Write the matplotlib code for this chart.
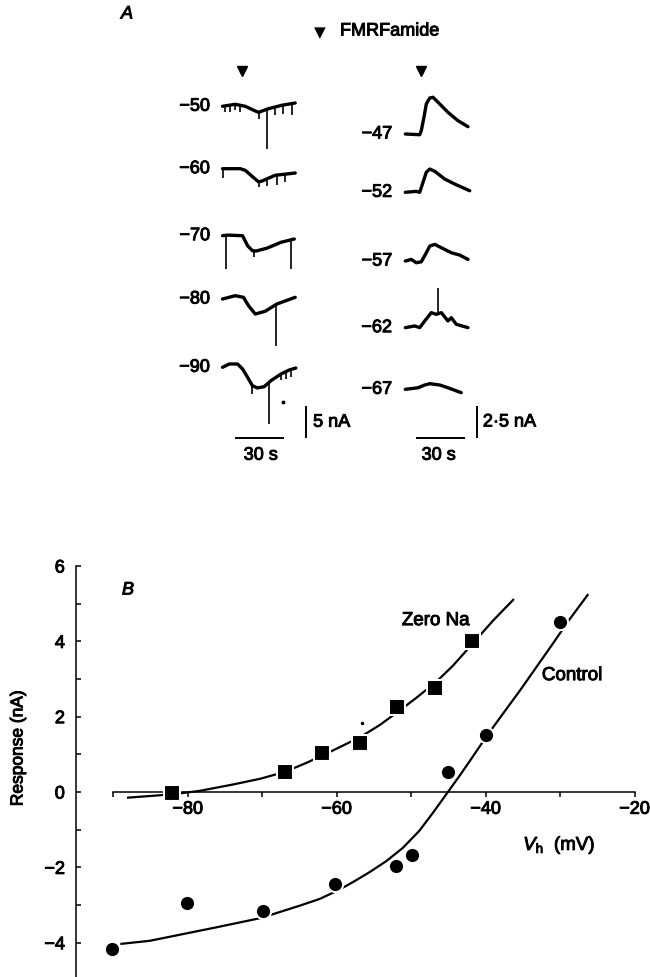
import matplotlib
matplotlib.use('Agg')
import matplotlib.pyplot as plt
import matplotlib.patheffects as pe
import numpy as np

plt.rcParams['font.family'] = ['Liberation Sans', 'DejaVu Sans']
plt.rcParams['mathtext.fontset'] = 'custom'
plt.rcParams['mathtext.rm'] = 'Liberation Sans'
plt.rcParams['mathtext.it'] = 'Liberation Sans:italic'

# ---------------- Panel B data ----------------
zero_na_vh = [-82.1, -67.0, -62.0, -56.9, -51.9, -46.8, -41.8]
zero_na_resp = [-0.03, 0.52, 1.03, 1.29, 2.25, 2.75, 4.02]
control_vh = [-90.2, -80.1, -69.9, -60.2, -52.0, -49.9, -45.0, -40.0, -30.0]
control_resp = [-4.17, -2.95, -3.15, -2.44, -1.96, -1.67, 0.52, 1.51, 4.52]

zero_na_fit_vh = [-88.0, -82.0, -78.4, -73.9, -70.3, -67.0, -64.1, -62.0, -59.6,
                  -56.8, -54.2, -51.7, -49.3, -46.6, -44.4, -41.6, -39.0, -36.3]
zero_na_fit_resp = [-0.15, -0.06, 0.03, 0.20, 0.35, 0.53, 0.77, 0.96, 1.19,
                    1.46, 1.78, 2.14, 2.50, 2.93, 3.35, 3.97, 4.55, 5.10]
control_fit_vh = [-88.9, -85.1, -80.6, -76.1, -70.3, -68.5, -65.0, -62.3, -59.8,
                  -57.8, -55.6, -53.3, -51.1, -48.9, -47.1, -45.1, -43.5, -42.2,
                  -39.8, -37.7, -35.4, -33.2, -31.0, -28.7, -26.3]
control_fit_resp = [-4.03, -3.95, -3.77, -3.59, -3.35, -3.24, -3.02, -2.84, -2.61,
                    -2.39, -2.13, -1.83, -1.48, -1.03, -0.56, -0.01, 0.43, 0.80,
                    1.50, 2.07, 2.69, 3.31, 3.93, 4.59, 5.23]

# ---------------- Panel A data (time in s, current in nA) ----------------
left_labels = ['\u221250', '\u221260', '\u221270', '\u221280', '\u221290']
right_labels = ['\u221247', '\u221252', '\u221257', '\u221262', '\u221267']

m50_t = [0, 8.1, 14.5, 20.9, 23.0, 29.4, 37.9, 46.4]
m50_i = [0, 0.33, 0, -0.78, -1.0, -0.4, 0.17, 0.55]
m50_spk_t = [1.7, 4.9, 8.1, 11.3, 23.0, 28.3, 33.6, 38.9, 44.3]
m50_spk_i = [-0.95, -0.95, -0.7, -0.95, -2.07, -7.07, -1.5, -1.23, -1.5]

m60_t = [0, 11.3, 14.5, 23.0, 25.3, 33.6, 46.4]
m60_i = [0, 0, -0.27, -2.2, -2.05, -1.1, -0.72]
m60_spk_t = [0.2, 23.0, 28.3, 34.7, 40.0]
m60_spk_i = [-1.5, -3.0, -2.9, -2.7, -2.2]

m70_t = [0, 3.2, 12.8, 16.0, 19.1, 21.5, 28.7, 37.3, 45.8]
m70_i = [0, 0.1, 0, -1.67, -2.5, -2.55, -2.05, -1.1, -0.55]
m70_spk_t = [2.55, 19.8, 43.6]
m70_spk_i = [-5.55, -3.6, -5.55]

m80_t = [0, 8.1, 13.4, 16.6, 20.9, 27.2, 34.7, 46.4]
m80_i = [0, 0.55, 0.28, -1.12, -2.5, -2.05, -0.83, 0.28]
m80_spk_t = [34.3, 40.5, 44.0]
m80_spk_i = [-7.78, -0.4, -0.2]

m90_t = [0, 4.3, 9.6, 12.8, 16.0, 19.1, 22.3, 26.6, 30.9, 37.3, 42.6, 46.8]
m90_i = [0, 0.55, 0.55, -0.28, -1.67, -3.07, -3.45, -3.23, -2.23, -1.12, -0.45, -0.12]
m90_spk_t = [19.1, 29.8, 37.3, 40.5, 43.6]
m90_spk_i = [-4.45, -9.45, -2.2, -1.95, -1.67]

m47_t = [0, 9.2, 10.2, 11.9, 13.4, 15.6, 17.7, 20.9, 27.2, 33.6, 40.0]
m47_i = [0, -0.06, 0.28, 1.39, 2.5, 3.0, 3.06, 2.64, 1.81, 1.11, 0.61]

m52_t = [0, 7.0, 9.2, 11.3, 13.4, 15.6, 18.8, 25.1, 31.5, 41.1]
m52_i = [0, 0.08, 0, 0.83, 1.67, 1.94, 1.75, 1.11, 0.69, 0.13]

m57_t = [0, 3.8, 7.0, 10.2, 13.4, 15.6, 18.8, 23.0, 29.4, 34.7, 40.0]
m57_i = [0, 0.14, -0.14, -0.06, 0.69, 1.25, 1.39, 1.11, 0.69, 0.5, 0.14]

m62_t = [0, 6.0, 9.2, 12.4, 16.6, 19.8, 23.0, 27.2, 29.4, 32.5, 40.0]
m62_i = [0, 0.14, 0, 0.56, 1.25, 1.11, 1.25, 0.56, 0.83, 0.28, 0]
m62_spk_t = [20.9]
m62_spk_i = [3.33]

m67_t = [0, 8.1, 12.4, 15.6, 22.0, 27.2, 35.7]
m67_i = [0, 0.13, 0.36, 0.47, 0.36, 0.13, -0.28]

# ---------------- layout ----------------
W, H = 650, 978
fig = plt.figure(figsize=(W / 100, H / 100), dpi=100)
HEAVY = [pe.withStroke(linewidth=0.7, foreground='black')]


def px_axes(x0, y0, x1, y1):
    return fig.add_axes([x0 / W, 1 - y1 / H, (x1 - x0) / W, (y1 - y0) / H])


def txt(obj, *args, **kw):
    t = obj.text(*args, **kw)
    t.set_path_effects(HEAVY)
    return t


FS = 13

# ---------------- Panel A ----------------
axL = px_axes(160, 60, 360, 470)
axL.set_xlim(-39.89, 87.75)
axL.set_ylim(0, 68.33)
axL.axis('off')

axR = px_axes(350, 60, 560, 470)
axR.set_xlim(-35.29, 98.72)
axR.set_ylim(0, 34.17)
axR.axis('off')

left_base = [60.45, 50.05, 38.88, 28.33, 16.95]
right_base = [27.92, 23.06, 17.33, 11.78, 6.64]

left_traces = [(m50_t, m50_i, m50_spk_t, m50_spk_i),
               (m60_t, m60_i, m60_spk_t, m60_spk_i),
               (m70_t, m70_i, m70_spk_t, m70_spk_i),
               (m80_t, m80_i, m80_spk_t, m80_spk_i),
               (m90_t, m90_i, m90_spk_t, m90_spk_i)]
right_traces = [(m47_t, m47_i, [], []),
                (m52_t, m52_i, [], []),
                (m57_t, m57_i, [], []),
                (m62_t, m62_i, m62_spk_t, m62_spk_i),
                (m67_t, m67_i, [], [])]


def draw_traces(ax, traces, bases, labels, label_x):
    for (t, i, st, si), b, lab in zip(traces, bases, labels):
        t = np.asarray(t, float)
        i = np.asarray(i, float)
        ax.plot(t, i + b, color='black', lw=2.4, solid_joinstyle='round',
                solid_capstyle='round')
        if len(st):
            st = np.asarray(st, float)
            y0 = np.interp(st, t, i) + b
            ax.vlines(st, y0, np.asarray(si, float) + b, color='black', lw=1.2)
        txt(ax, label_x, b, lab, ha='right', va='center', fontsize=FS)


draw_traces(axL, left_traces, left_base, left_labels, -8.0)
draw_traces(axR, right_traces, right_base, right_labels, -8.5)

# stray dot on -90 trace
axL.plot([38.9], [16.95 - 5.83], 'o', color='black', ms=1.8)

# application markers
axL.plot([12.6], [66.3], 'v', color='black', ms=7.5)
axR.plot([9.8], [33.17], 'v', color='black', ms=7.5)

# scale bars left: 5 nA, 30 s
axL.plot([53.1, 53.1], [5.28, 10.28], color='black', lw=1.4)
txt(axL, 57.8, 7.8, '5 nA', ha='left', va='center', fontsize=FS)
axL.plot([8.6, 38.6], [5.12, 5.12], color='black', lw=1.4)
txt(axL, 24.4, 2.3, '30 s', ha='center', va='center', fontsize=FS)

# scale bars right: 2.5 nA, 30 s
axR.plot([45.6, 45.6], [2.67, 5.17], color='black', lw=1.4)
txt(axR, 49.5, 3.92, '2\u00b75 nA', ha='left', va='center', fontsize=FS)
axR.plot([7.3, 37.3], [2.56, 2.56], color='black', lw=1.4)
txt(axR, 21.3, 1.15, '30 s', ha='center', va='center', fontsize=FS)

# top legend
fig.text(320 / W, 1 - 33 / H, '\u25bc', ha='center', va='center', fontsize=11,
         family=['DejaVu Sans'])
txt(fig, 340 / W, 1 - 32 / H, 'FMRFamide', ha='left', va='center', fontsize=13)

txt(fig, 127 / W, 1 - 15 / H, 'A', ha='center', va='center', fontsize=13, style='italic')
txt(fig, 128 / W, 1 - 591 / H, 'B', ha='center', va='center', fontsize=13, style='italic')

# ---------------- Panel B ----------------
axB = px_axes(76, 563.2, 642, 977.6)
axB.set_xlim(-95, -19)
axB.set_ylim(-4.9, 6.1)
axB.patch.set_alpha(0)
for s in ['top', 'right']:
    axB.spines[s].set_visible(False)
axB.spines['bottom'].set_position(('data', 0))
axB.spines['bottom'].set_bounds(-90, -20)
axB.spines['left'].set_bounds(-4.9, 6)
for s in ['bottom', 'left']:
    axB.spines[s].set_linewidth(1.1)

axB.set_xticks([-80, -60, -40, -20])
axB.set_xticks([-90, -70, -50, -30], minor=True)
axB.set_yticks([-4, -2, 0, 2, 4, 6])
axB.set_yticks([-3, -1, 1, 3, 5], minor=True)
axB.tick_params(axis='x', which='both', direction='out', length=3.8, width=1.1,
                pad=2.5, labelsize=FS)
axB.tick_params(axis='y', which='both', direction='in', length=3.8, width=1.1,
                pad=8, labelsize=FS)
for lab in axB.get_xticklabels() + axB.get_yticklabels():
    lab.set_path_effects(HEAVY)

axB.plot(zero_na_fit_vh, zero_na_fit_resp, color='black', lw=1.6, zorder=2,
         solid_joinstyle='round')
axB.plot(control_fit_vh, control_fit_resp, color='black', lw=1.6, zorder=2,
         solid_joinstyle='round')
axB.plot(zero_na_vh, zero_na_resp, 's', color='black', ms=11, mec='white',
         mew=1.5, zorder=3, clip_on=False)
axB.plot(control_vh, control_resp, 'o', color='black', ms=11, mec='white',
         mew=1.5, zorder=3, clip_on=False)
axB.plot([-56.6], [1.83], 'o', color='black', ms=1.5)

txt(axB, -46.7, 4.55, 'Zero Na', ha='center', va='center', fontsize=13.5)
txt(axB, -28.4, 3.09, 'Control', ha='center', va='center', fontsize=13.5)
txt(axB, -30.1, -1.42, r'$V_{\rm h}$  (mV)', ha='center', va='center', fontsize=13.5)

yl = axB.set_ylabel('Response (nA)', fontsize=12.5)
yl.set_path_effects(HEAVY)
axB.yaxis.set_label_coords(-0.0893, 0.5516)

fig.savefig('out.png', dpi=100)
